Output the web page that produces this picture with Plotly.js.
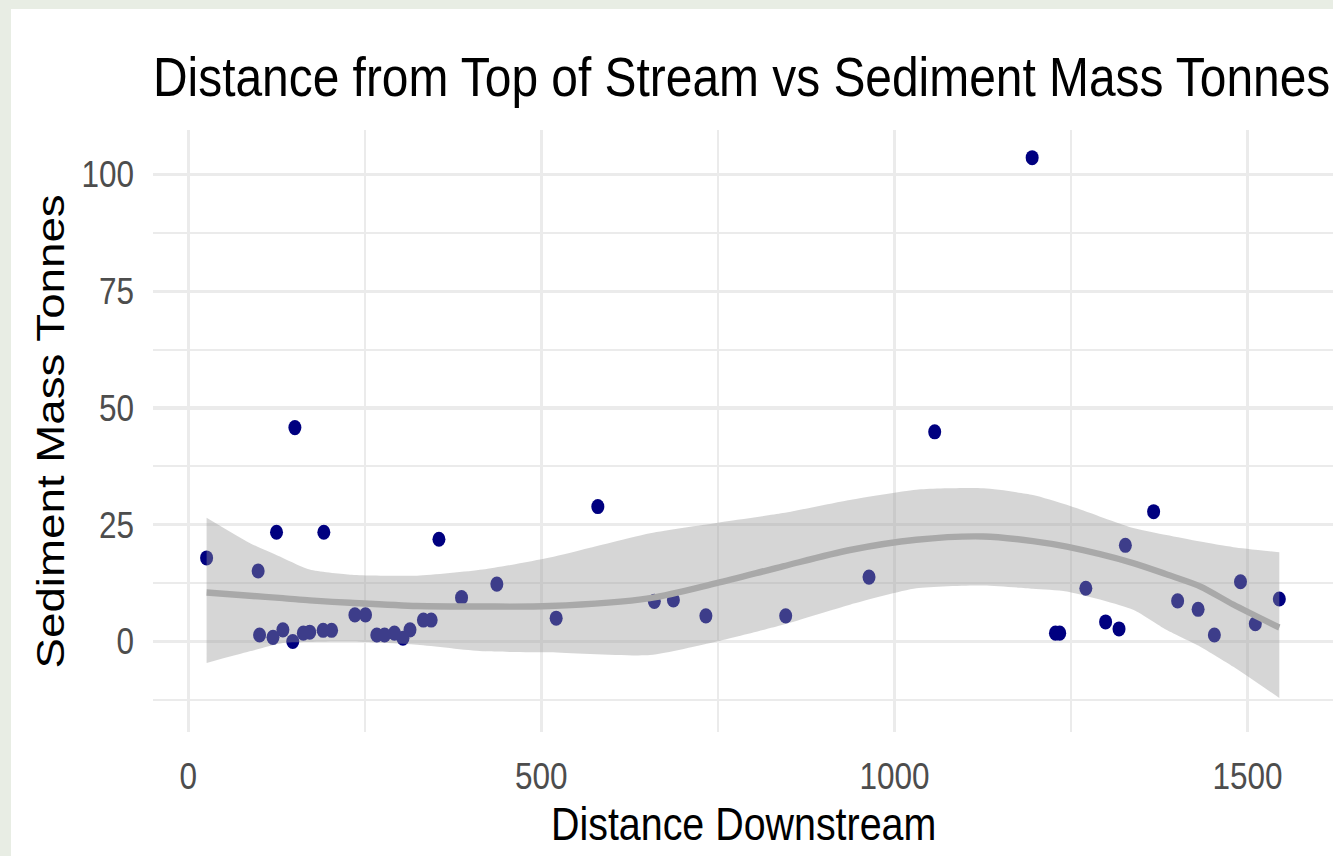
<!DOCTYPE html>
<html>
<head>
<meta charset="utf-8">
<script src="https://cdn.plot.ly/plotly-3.0.1.min.js"></script>
<style>
  html, body { margin: 0; padding: 0; width: 1333px; height: 856px; overflow: hidden; background: #e8ede4; }
  #plot { position: absolute; left: 11px; top: 9px; width: 1322px; height: 730px; background: #ffffff;
          transform: scaleY(1.16); transform-origin: 0 0; }
</style>
</head>
<body>
<div id="plot"></div>
<script>
// Scatter data
var distance = [26, 99, 101, 120, 125, 134, 148, 151, 163, 172, 191, 192, 203, 236, 251, 267, 278, 292, 304, 314,
                333, 344, 355, 387, 437, 521, 580, 660, 687, 733, 846, 964, 1057, 1195, 1228, 1234, 1271, 1299, 1318, 1327,
                1367, 1401, 1430, 1453, 1490, 1511, 1545];
var sediment = [17.9, 15.1, 1.4, 0.9, 23.4, 2.5, 0.0, 45.8, 1.8, 2.0, 2.4, 23.4, 2.4, 5.7, 5.7, 1.4, 1.4, 1.8, 0.7, 2.5,
                4.6, 4.6, 21.9, 9.4, 12.3, 5.0, 28.9, 8.6, 8.9, 5.5, 5.5, 13.8, 44.9, 103.6, 1.8, 1.8, 11.4, 4.2, 2.7, 20.6,
                27.8, 8.7, 6.9, 1.4, 12.8, 3.8, 9.1];

// Smoothed fit and confidence band
var smoothX     = [26, 87, 134, 172, 229, 324, 417, 512, 654, 748, 842, 937, 1031, 1126, 1196, 1244, 1338, 1385, 1433, 1480, 1545];
var smoothFit   = [10.5, 9.8, 9.3, 8.8, 8.3, 7.6, 7.5, 7.6, 9.3, 12.5, 16.1, 19.6, 21.8, 22.5, 21.5, 20.3, 16.8, 14.4, 11.8, 7.9, 3.0];
var smoothUpper = [26.5, 21.1, 17.9, 15.4, 14.3, 14.1, 15.4, 18.0, 23.2, 25.4, 27.5, 30.3, 32.5, 32.8, 31.4, 29.3, 24.3, 22.8, 21.4, 20.2, 19.1];
var smoothLower = [-4.6, -2.1, -0.3, -0.1, 0.0, -0.7, -2.1, -2.3, -2.9, 0.0, 3.6, 7.9, 11.4, 12.0, 11.3, 10.7, 6.8, 2.5, -1.1, -5.4, -12.1];

// Axis ticks
var xTicks = [0, 500, 1000, 1500];
var yTicks = [0, 25, 50, 75, 100];

var titleText = "Distance from Top of Stream vs Sediment Mass Tonnes";
var xTitle = "Distance Downstream";
var yTitle = "Sediment Mass Tonnes";

var FONT = "Liberation Sans, Arial, Helvetica, sans-serif";

var traces = [
  {
    type: 'scatter', mode: 'markers', x: distance, y: sediment,
    marker: { color: '#000080', size: 13, line: { width: 0 } },
    hoverinfo: 'skip', showlegend: false
  },
  {
    type: 'scatter', mode: 'lines', x: smoothX, y: smoothLower,
    line: { width: 0, color: 'rgba(0,0,0,0)', shape: 'spline', smoothing: 0.6 },
    hoverinfo: 'skip', showlegend: false
  },
  {
    type: 'scatter', mode: 'lines', x: smoothX, y: smoothUpper, fill: 'tonexty',
    fillcolor: 'rgba(153,153,153,0.4)',
    line: { width: 0, color: 'rgba(0,0,0,0)', shape: 'spline', smoothing: 0.6 },
    hoverinfo: 'skip', showlegend: false
  },
  {
    type: 'scatter', mode: 'lines', x: smoothX, y: smoothFit,
    line: { color: '#a9a9a9', width: 5.5, shape: 'spline', smoothing: 0.8 },
    hoverinfo: 'skip', showlegend: false
  }
];

var layout = {
  width: 1322, height: 730,
  paper_bgcolor: '#ffffff', plot_bgcolor: '#ffffff',
  margin: { l: 142, r: 0, t: 104.3, b: 106.7, pad: 0 },
  showlegend: false,
  font: { family: FONT, color: '#4d4d4d' },
  title: {
    text: titleText, font: { family: FONT, size: 47.9, color: '#000000' },
    xref: 'paper', x: 0, xanchor: 'left',
    yref: 'container', y: 0.943, yanchor: 'top', pad: { l: 0, r: 0, t: 0, b: 0 }
  },
  xaxis: {
    range: [-49.9, 1621], tickvals: xTicks, ticktext: xTicks.map(String),
    showgrid: true, gridcolor: '#ebebeb', gridwidth: 3,
    minor: { tickvals: [250, 750, 1250], showgrid: true, gridcolor: '#ebebeb', gridwidth: 2 },
    zeroline: false, showline: false, ticks: '',
    tickfont: { family: FONT, size: 31.5, color: '#4d4d4d' },
    ticklabelstandoff: 17, fixedrange: true
  },
  yaxis: {
    range: [-19.3, 109.6], tickvals: yTicks, ticktext: yTicks.map(String),
    showgrid: true, gridcolor: '#ebebeb', gridwidth: 2.6,
    minor: { tickvals: [-12.5, 12.5, 37.5, 62.5, 87.5], showgrid: true, gridcolor: '#ebebeb', gridwidth: 1.8 },
    zeroline: false, showline: false, ticks: '',
    tickfont: { family: FONT, size: 31.5, color: '#4d4d4d' },
    ticklabelstandoff: 18, fixedrange: true
  },
  annotations: [
    {
      text: xTitle, xref: 'paper', yref: 'paper', x: 0.5, y: -0.1528,
      xanchor: 'center', yanchor: 'middle', showarrow: false,
      font: { family: FONT, size: 39.4, color: '#000000' }
    },
    {
      text: yTitle, xref: 'paper', yref: 'paper', x: -0.0873, y: 0.5, textangle: -90,
      xanchor: 'center', yanchor: 'middle', showarrow: false,
      font: { family: FONT, size: 39.4, color: '#000000' }
    }
  ]
};

Plotly.newPlot('plot', traces, layout, { displayModeBar: false, staticPlot: true });
</script>
</body>
</html>
